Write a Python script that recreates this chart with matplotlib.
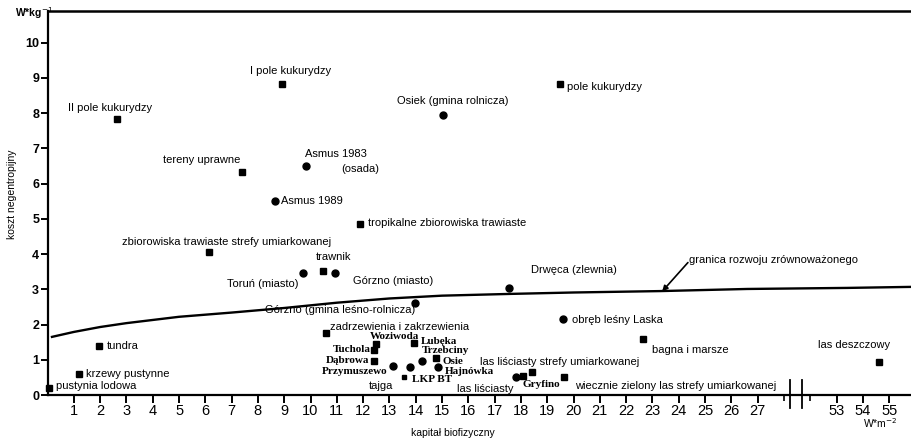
import matplotlib.pyplot as plt
import numpy as np

# punkty: kapitał biofizyczny [W*m-2], koszt negentropijny [W*kg-1]
names = ["II pole kukurydzy", "I pole kukurydzy", "pole kukurydzy",
         "Osiek (gmina rolnicza)", "Asmus 1983", "tereny uprawne", "Asmus 1989",
         "tropikalne zbiorowiska trawiaste",
         "zbiorowiska trawiaste strefy umiarkowanej", "trawnik",
         "Toruń (miasto)", "Górzno (miasto)", "Drwęca (zlewnia)",
         "Górzno (gmina leśno-rolnicza)", "obręb leśny Laska",
         "zadrzewienia i zakrzewienia", "Woziwoda", "Tuchola", "Dąbrowa",
         "Przymuszewo", "Lubęka", "Trzebciny", "Osie", "Hajnówka", "",
         "LKP BT", "", "Gryfino", "",
         "wiecznie zielony las strefy umiarkowanej", "bagna i marsze",
         "tundra", "krzewy pustynne", "pustynia lodowa", "las deszczowy"]
cap = [2.64, 8.92, 19.49, 15.04, 9.83, 7.40, 8.65, 11.88, 6.14, 10.48,
       9.71, 10.93, 17.55, 13.97, 19.60, 10.59, 12.49, 12.41, 12.41, 13.14,
       13.94, 14.24, 14.77, 14.85, 13.78, 13.55, 17.81, 18.08, 18.42, 19.64,
       22.64, 1.96, 1.20, 0.06, 54.62]
cost = [7.84, 8.84, 8.84, 7.95, 6.51, 6.34, 5.51, 4.86, 4.06, 3.52,
        3.47, 3.47, 3.04, 2.61, 2.16, 1.76, 1.45, 1.28, 0.97, 0.82,
        1.48, 0.97, 1.05, 0.80, 0.80, 0.51, 0.51, 0.54, 0.65, 0.51,
        1.59, 1.39, 0.60, 0.20, 0.94]
kind = ['s', 's', 's', 'o', 'o', 's', 'o', 's', 's', 's',
        'o', 'o', 'o', 'o', 'o', 's', 's', 's', 's', 'o',
        's', 'o', 's', 'o', 'o', 's', 'o', 's', 's', 's',
        's', 's', 's', 's', 's']
serif_names = {"Woziwoda", "Tuchola", "Dąbrowa", "Przymuszewo", "Lubęka",
               "Trzebciny", "Osie", "Hajnówka", "LKP BT", "Gryfino"}

# napisy bez punktu
free_txt = ["(osada)", "tajga", "las liściasty", "las liściasty strefy umiarkowanej"]
free_x = [11.16, 12.68, 16.63, 19.49]
free_y = [6.42, 0.26, 0.17, 0.94]

# granica rozwoju zrównoważonego
line_x = [0.17, 1, 2, 3, 5, 7, 9, 11, 13, 15, 17.6, 20, 23.3, 26.6, 53.4, 55.9]
line_y = [1.65, 1.79, 1.93, 2.04, 2.22, 2.34, 2.47, 2.62, 2.74, 2.82, 2.87,
          2.91, 2.95, 3.01, 3.04, 3.07]

xticks = list(range(1, 28)) + [53, 54, 55]

# przesunięcia napisów (piksele) i wyrównanie
offs = {
    "II pole kukurydzy": (-7, 11, 'center'),
    "I pole kukurydzy": (8, 13, 'center'),
    "pole kukurydzy": (7, -3, 'left'),
    "Osiek (gmina rolnicza)": (10, 14, 'center'),
    "Asmus 1983": (-1, 12, 'left'),
    "tereny uprawne": (-2, 12, 'right'),
    "Asmus 1989": (6, 0, 'left'),
    "tropikalne zbiorowiska trawiaste": (8, 1, 'left'),
    "zbiorowiska trawiaste strefy umiarkowanej": (18, 10, 'center'),
    "trawnik": (10, 14, 'center'),
    "Toruń (miasto)": (-4, -11, 'right'),
    "Górzno (miasto)": (18, -8, 'left'),
    "Drwęca (zlewnia)": (22, 18, 'left'),
    "Górzno (gmina leśno-rolnicza)": (0, -7, 'right'),
    "obręb leśny Laska": (9, -1, 'left'),
    "zadrzewienia i zakrzewienia": (4, 6, 'left'),
    "Woziwoda": (-6, 7, 'left'),
    "Tuchola": (-3, 0, 'right'),
    "Dąbrowa": (-5, 0, 'right'),
    "Przymuszewo": (-6, -5, 'right'),
    "Lubęka": (7, 1, 'left'),
    "Trzebciny": (0, 10, 'left'),
    "Osie": (7, -3, 'left'),
    "Hajnówka": (7, -5, 'left'),
    "LKP BT": (8, -2, 'left'),
    "Gryfino": (-1, -9, 'left'),
    "wiecznie zielony las strefy umiarkowanej": (11, -9, 'left'),
    "bagna i marsze": (9, -11, 'left'),
    "tundra": (8, 0, 'left'),
    "krzewy pustynne": (7, 0, 'left'),
    "pustynia lodowa": (7, 2, 'left'),
    "las deszczowy": (-25, 17, 'center'),
}


def tx(v):
    # przerwa na osi: 28 | 52
    v = np.asarray(v, dtype=float)
    return np.where(v > 40, v - 23, v)


plt.rcParams['font.family'] = ['Liberation Sans', 'DejaVu Sans']
fig = plt.figure(figsize=(9.12, 4.41), dpi=100)
ax = fig.add_axes([0.0521, 0.1043, 0.9479, 0.8707])
ax.set_xlim(0, 32.87)
ax.set_ylim(0, 10.9)

ax.plot(tx(line_x), line_y, color='black', lw=1.7, zorder=2)

xs = tx(cap)
for n, x, y, k in zip(names, xs, cost, kind):
    ms = 4.3 if k == 's' else 5
    if n == "LKP BT":
        ms = 3.5
    ax.plot(x, y, marker=k, color='black', ms=ms, ls='none', zorder=3, clip_on=False)
    if n:
        dx, dy, ha = offs[n]
        if n in serif_names:
            fp = dict(family=['Liberation Serif'], fontsize=8, fontweight='bold')
        else:
            fp = dict(fontsize=8)
        ax.annotate(n, (x, y), xytext=(dx, dy), textcoords='offset pixels',
                    ha=ha, va='center', **fp)

for t, x, y in zip(free_txt, tx(free_x), free_y):
    ax.text(x, y, t, fontsize=8, ha='left' if t == "(osada)" else 'center', va='center')

# napis i strzałka granicy
ax.text(24.4, 3.84, "granica rozwoju zrównoważonego", fontsize=8, ha='left', va='center')
ax.annotate("", xy=(23.37, 2.94), xytext=(24.35, 3.76),
            arrowprops=dict(arrowstyle='-|>', color='black', lw=1.2, mutation_scale=8,
                            shrinkA=0, shrinkB=0))

# osie
ax.spines['right'].set_visible(False)
ax.spines['top'].set_linewidth(1.8)
ax.spines['left'].set_linewidth(1.6)
ax.spines['bottom'].set_linewidth(1.6)

ax.set_xticks(tx(xticks))
ax.set_xticklabels([str(v) for v in xticks], fontsize=10.5)
ax.set_xticks(tx([28, 52]), minor=True)
ax.set_yticks(range(0, 11))
ax.set_yticklabels([str(v) for v in range(0, 11)], fontsize=9, fontweight='bold')
ax.tick_params(axis='x', which='major', direction='out', length=6, width=1.4, pad=0.5)
ax.tick_params(axis='x', which='minor', direction='out', length=4, width=1.2)
ax.tick_params(axis='y', direction='out', length=5, width=1.4, pad=1)

# przerwa osi
for bx in [28.25, 28.7]:
    ax.plot([bx, bx], [-0.38, 0.42], color='black', lw=1.3, clip_on=False)

ax.text(0.2, 10.85, "W*kg$^{-1}$", fontsize=7.5, ha='right', va='center', fontweight='bold')
ax.text(31.65, -0.8, "W*m$^{-2}$", fontsize=7.5, ha='center', va='center', clip_on=False)
ax.text(15.4, -1.08, "kapitał biofizyczny", fontsize=7.5, ha='center', va='center', clip_on=False)
ax.text(-1.35, 5.7, "koszt negentropijny", fontsize=7.5, rotation=90,
        ha='center', va='center', clip_on=False)

fig.savefig('out.png', dpi=100)
